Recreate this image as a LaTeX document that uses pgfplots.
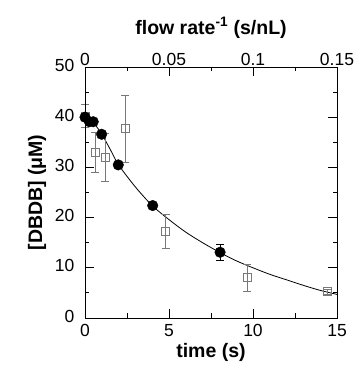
\documentclass[border=0pt]{standalone}
\usepackage{fontspec}
\setmainfont{Liberation Sans}
\usepackage{pgfplots}
\pgfplotsset{compat=1.18}
\definecolor{sqgray}{RGB}{120,120,120}
\begin{document}
\begin{tikzpicture}
\pgfplotsset{
  every axis/.append style={
    scale only axis, width=252pt, height=251pt,
    ymin=0, ymax=50,
    tick align=inside,
    major tick length=9pt, minor tick length=4.5pt,
    axis line style={line width=0.8pt},
    every tick/.style={line width=0.8pt, black},
    /pgf/number format/assume math mode=true,
  }
}
\begin{axis}[
  xmin=0, xmax=15,
  xtick={0,5,10,15}, minor xtick={2.5,7.5,12.5},
  ytick={0,10,20,30,40,50}, minor ytick={5,15,25,35,45},
  xtick pos=left, ytick pos=both, yticklabel pos=left,
  tick label style={font=\fontsize{17.5}{19}\selectfont},
  xticklabel style={yshift=-3pt},
  yticklabel style={xshift=-7pt, yshift=2pt},
  xlabel={\bfseries time (s)},
  ylabel={\bfseries [DBDB] (μM)},
  label style={font=\fontsize{19.5}{22}\selectfont},
  xlabel style={at={(axis description cs:0.5,-0.159)}, anchor=base},
  ylabel style={at={(axis description cs:-0.14,0.5)}, anchor=south},
  clip=false,
]
% fitted curve
\addplot[black, line width=0.8pt, smooth, mark=none] coordinates {
(0,40.0) (0.5,38.9) (1,36.6) (1.5,33.6) (2,30.5) (3,26.1) (4,22.4) (5,19.6) (6,17.1) (7,15.0) (8,13.1) (9,11.4) (10,10.0) (11,8.7) (12,7.6) (13,6.5) (14,5.5) (15,4.7)
};
% open squares with error bars
\addplot[only marks, mark=square, mark size=4pt, sqgray, mark options={fill=none, line width=0.7pt},
  error bars/.cd, y dir=both, y explicit,
  error bar style={sqgray, line width=0.6pt},
  error mark options={rotate=90, mark size=4pt, sqgray, line width=0.6pt}]
coordinates {
(0,40.2) +- (0,2.3)
(0.6,33.0) +- (0,3.9)
(1.2,32.0) +- (0,4.8)
(2.4,37.7) +- (0,6.6)
(4.8,17.2) +- (0,3.4)
(9.65,8.0) +- (0,2.7)
(14.4,5.3) +- (0,0.5)
};
% filled circles with error bars
\addplot[only marks, mark=*, mark size=5.3pt, black, mark options={fill=black},
  error bars/.cd, y dir=both, y explicit,
  error bar style={black, line width=0.7pt},
  error mark options={rotate=90, mark size=4pt, black, line width=0.7pt}]
coordinates {
(0,40.0) +- (0,0.5)
(0.26,39.1) +- (0,0.8)
(0.49,39.1) +- (0,0.5)
(0.99,36.6) +- (0,0.6)
(1.98,30.5) +- (0,0.5)
(4.03,22.4) +- (0,0.5)
(8.04,13.1) +- (0,1.6)
};
\end{axis}
\begin{axis}[
  xmin=0, xmax=0.15,
  xtick={0,0.05,0.1,0.15}, minor xtick={0.025,0.075,0.125},
  xtick pos=right, xticklabel pos=right,
  tick label style={font=\fontsize{17.5}{19}\selectfont},
  xticklabel style={/pgf/number format/fixed, /pgf/number format/precision=3, yshift=-2pt},
  ytick=\empty,
  xlabel={\bfseries flow rate\textsuperscript{-1} (s/nL)},
  label style={font=\fontsize{19.5}{22}\selectfont},
  xlabel style={at={(axis description cs:0.5,1.131)}, anchor=base},
]
\end{axis}
\pgfresetboundingbox
\path (-85pt,-48pt) rectangle (270pt,318pt);
\end{tikzpicture}
\end{document}
